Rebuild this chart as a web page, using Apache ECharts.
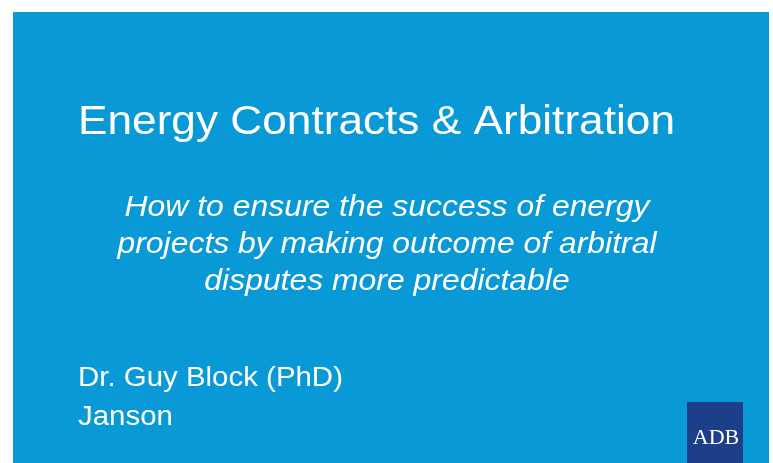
<!DOCTYPE html>
<html><head><meta charset="utf-8">
<script src="https://cdn.jsdelivr.net/npm/echarts@6/dist/echarts.min.js"></script>
<style>html,body{margin:0;padding:0;background:#fff}#c{width:773px;height:463px}</style>
</head><body><div id="c"></div>
<script>
const titleText = 'Energy Contracts & Arbitration';
const subtitleLines = ['How to ensure the success of energy', 'projects by making outcome of arbitral', 'disputes more predictable'];
const authorLines = ['Dr. Guy Block (PhD)', 'Janson'];
const logoText = 'ADB';

const chart = echarts.init(document.getElementById('c'), null, {renderer: 'canvas'});
const font = 'Arial, "Liberation Sans", Helvetica, sans-serif';
const white = '#ffffff';
const graphics = [
  {type: 'rect', shape: {x: 13, y: 12, width: 756, height: 460}, style: {fill: '#0899d6'}},
  {type: 'text', x: 78, y: 123, scaleX: 1.105, style: {text: titleText, fill: white, font: '40px ' + font, textAlign: 'left', textVerticalAlign: 'middle'}}
];
const subY = [208, 245, 282];
subtitleLines.forEach((t, i) => graphics.push({type: 'text', x: 387, y: subY[i], scaleX: 1.1, style: {text: t, fill: white, font: 'italic 29px ' + font, textAlign: 'center', textVerticalAlign: 'middle'}}));
const authY = [379, 418];
authorLines.forEach((t, i) => graphics.push({type: 'text', x: 78, y: authY[i], scaleX: 1.09, style: {text: t, fill: white, font: '27px ' + font, textAlign: 'left', textVerticalAlign: 'middle'}}));
graphics.push({type: 'rect', shape: {x: 687, y: 402, width: 56, height: 70}, style: {fill: '#1d3f8a'}});
graphics.push({type: 'text', x: 716, y: 438, style: {text: logoText, fill: white, font: '22px "Liberation Serif", "Times New Roman", serif', textAlign: 'center', textVerticalAlign: 'middle'}});
chart.setOption({animation: false, graphic: {elements: graphics}});
</script></body></html>
